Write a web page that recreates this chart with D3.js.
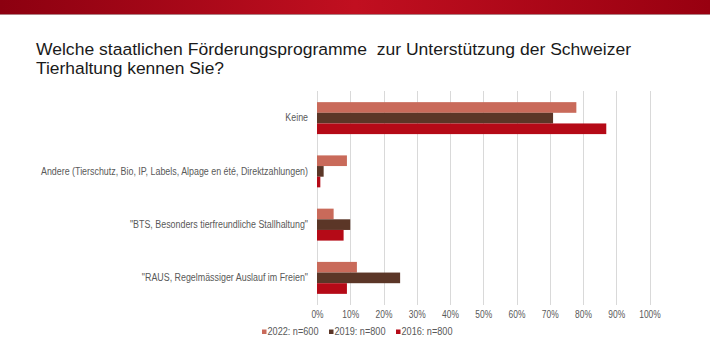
<!DOCTYPE html>
<html><head><meta charset="utf-8">
<script src="https://cdn.jsdelivr.net/npm/d3@7"></script>
<style>body{margin:0;background:#fff;}svg{display:block;font-family:"Liberation Sans",Arial,sans-serif;}</style>
</head><body><svg id="c" width="710" height="357"></svg>
<script>
const titleLines = ["Welche staatlichen Förderungsprogramme  zur Unterstützung der Schweizer", "Tierhaltung kennen Sie?"];
const categories = ["Keine", "Andere (Tierschutz, Bio, IP, Labels, Alpage en été, Direktzahlungen)", "\"BTS, Besonders tierfreundliche Stallhaltung\"", "\"RAUS, Regelmässiger Auslauf im Freien\""];
const seriesNames = ["2022: n=600", "2019: n=800", "2016: n=800"];
const seriesColors = ["#c96a5a", "#5b3627", "#b50a17"];
const values2022 = [78, 9, 5, 12];
const values2019 = [71, 2, 10, 25];
const values2016 = [87, 1, 8, 9];
const tickValues = [0,10,20,30,40,50,60,70,80,90,100];

const FF = "'Liberation Sans', Arial, sans-serif";
const svg = d3.select("#c");
function squeeze(sel, factor) {
  sel.each(function(){
    const w = this.getComputedTextLength();
    d3.select(this).attr("textLength", w*factor).attr("lengthAdjust","spacingAndGlyphs");
  });
}
const defs = svg.append("defs");
const g = defs.append("linearGradient").attr("id","bn").attr("x1","0").attr("x2","1");
g.append("stop").attr("offset","0").attr("stop-color","#8c0010");
g.append("stop").attr("offset","0.5").attr("stop-color","#c10f20");
g.append("stop").attr("offset","1").attr("stop-color","#980010");
svg.append("rect").attr("x",0).attr("y",0).attr("width",710).attr("height",14).attr("fill","url(#bn)");
svg.append("rect").attr("x",0).attr("y",14).attr("width",710).attr("height",1).attr("fill","#7a2a30").attr("opacity",0.6);

const title = svg.append("text").attr("font-family",FF).attr("font-size",17.2).attr("fill","#1a1a1a").style("white-space","pre");
const titleWidths = [595, 188];
titleLines.forEach((l,i)=>{
  title.append("tspan").attr("x",36).attr("y",54.5+i*19.2).text(l)
    .attr("textLength", titleWidths[i]).attr("lengthAdjust","spacingAndGlyphs");
});

const x = d3.scaleLinear().domain([0,100]).range([317,649.5]);
const y = d3.scaleBand().domain(categories).range([91.5,304.5]).paddingInner(0.4).paddingOuter(0.2);
const yi = d3.scaleBand().domain(seriesNames).range([0,y.bandwidth()]);

svg.append("g").selectAll("line").data(tickValues).join("line")
  .attr("x1",d=>Math.round(x(d))+0.5).attr("x2",d=>Math.round(x(d))+0.5)
  .attr("y1",91).attr("y2",305).attr("stroke","#d9d9d9").attr("stroke-width",1);

const data = [values2022, values2019, values2016];
data.forEach((vals,si)=>{
  svg.append("g").selectAll("rect").data(categories).join("rect")
    .attr("x",x(0)).attr("y",(c)=>y(c)+yi(seriesNames[si]))
    .attr("width",(c,i)=>x(vals[i])-x(0)).attr("height",yi.bandwidth())
    .attr("fill",seriesColors[si]);
});

const xAxis = d3.axisBottom(x).tickValues(tickValues).tickFormat(d=>d+"%").tickSize(0).tickPadding(0);
const xa = svg.append("g").attr("transform","translate(0,310)").call(xAxis);
xa.select(".domain").remove();
xa.attr("font-family",FF);
const xt = xa.selectAll("text").attr("font-size",10).attr("fill","#595959").attr("dy","0.75em");
const w100 = xt.filter(d=>d===100).node().getComputedTextLength();
squeeze(xt, 21.5/w100);

const yAxis = d3.axisLeft(y).tickSize(0).tickPadding(9);
const ya = svg.append("g").attr("transform","translate(317,0)").call(yAxis);
ya.select(".domain").remove();
ya.attr("font-family",FF);
const yt = ya.selectAll("text").attr("font-size",10).attr("fill","#595959");
const wA = yt.filter(d=>d===categories[1]).node().getComputedTextLength();
squeeze(yt, 267/wA);

const legX = [262, 329, 396];
const lg = svg.append("g").attr("font-family",FF);
let legFactor = null;
seriesNames.forEach((n,i)=>{
  lg.append("rect").attr("x",legX[i]).attr("y",329.5).attr("width",4.5).attr("height",4.5).attr("fill",seriesColors[i]);
  const tx = lg.append("text").attr("x",legX[i]+5.5).attr("y",334.5).attr("font-size",10).attr("fill","#595959").text(n);
  if (legFactor===null) legFactor = 51/tx.node().getComputedTextLength();
  squeeze(tx, legFactor);
});
</script></body></html>
